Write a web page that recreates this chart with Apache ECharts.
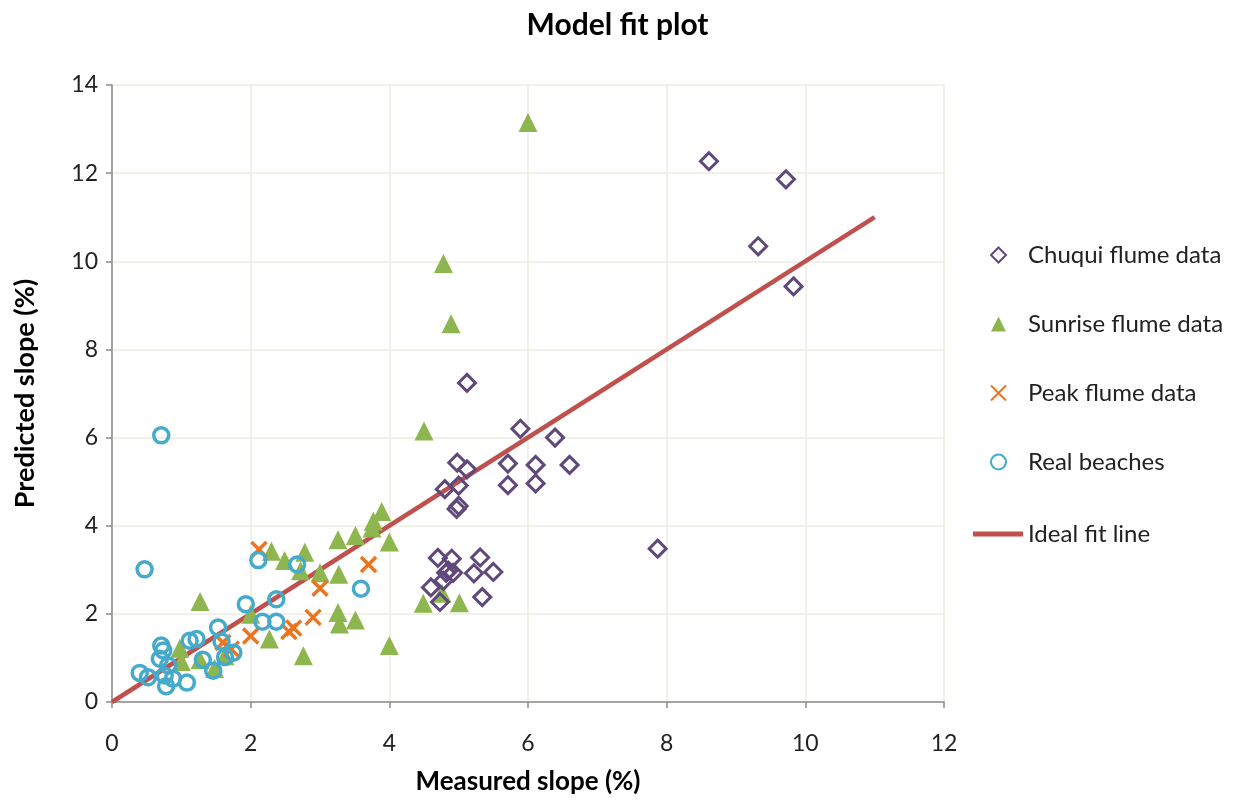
<!DOCTYPE html>
<html>
<head>
<meta charset="utf-8">
<script src="https://cdn.jsdelivr.net/npm/echarts@6/dist/echarts.min.js"></script>
<style>html,body{margin:0;padding:0;background:#fff}#c{width:1235px;height:800px}</style>
</head>
<body>
<div id="c"></div>
<script>
const chuqui = [[4.60,2.60],[4.73,2.27],[4.78,2.75],[4.82,2.93],[4.85,2.98],[4.92,2.93],[4.70,3.27],[4.90,3.25],[5.31,3.28],[5.22,2.92],[5.50,2.95],[5.34,2.38],[4.80,4.83],[5.00,4.91],[4.97,4.38],[5.00,4.45],[4.98,5.43],[5.12,5.28],[5.71,5.41],[5.71,4.92],[6.11,5.38],[6.11,4.96],[6.60,5.38],[5.89,6.20],[6.39,6.00],[5.12,7.24],[7.87,3.48],[8.61,12.27],[9.72,11.86],[9.32,10.34],[9.83,9.43]];
const sunrise = [[6.00,13.15],[4.78,9.95],[4.89,8.58],[4.50,6.15],[3.89,4.32],[3.77,4.10],[3.75,3.95],[4.00,3.63],[3.51,3.78],[3.26,3.68],[2.78,3.40],[2.30,3.42],[2.49,3.21],[2.72,2.98],[3.00,2.93],[3.27,2.90],[3.26,2.03],[3.28,1.77],[3.51,1.86],[4.00,1.28],[2.76,1.05],[2.27,1.43],[2.00,1.99],[1.27,2.28],[0.98,1.22],[1.00,0.92],[1.27,0.96],[1.48,0.76],[1.63,1.05],[4.49,2.24],[4.76,2.47],[5.01,2.25]];
const peak = [[1.60,1.35],[1.72,1.20],[2.00,1.50],[2.12,3.46],[2.55,1.60],[2.62,1.68],[2.90,1.92],[3.00,2.58],[3.70,3.12]];
const beaches = [[0.71,6.05],[0.47,3.01],[2.11,3.22],[2.67,3.12],[3.59,2.57],[1.93,2.22],[2.37,2.33],[2.17,1.82],[2.37,1.82],[1.53,1.69],[1.12,1.39],[1.22,1.43],[1.58,1.37],[1.75,1.12],[1.63,1.02],[1.31,0.96],[0.71,1.28],[0.74,1.17],[0.69,0.98],[0.81,0.83],[0.40,0.66],[0.52,0.56],[0.76,0.60],[0.88,0.53],[0.78,0.36],[1.08,0.44],[1.46,0.71]];
const idealLine = [[0,0],[11,11]];
const seriesNames = ['Chuqui flume data','Sunrise flume data','Peak flume data','Real beaches','Ideal fit line'];

const FONT = 'Lato, "Open Sans", sans-serif';
const CROSS = 'path://M0,0L10,10M10,0L0,10';
const chart = echarts.init(document.getElementById('c'), null, {renderer:'canvas'});
const gridColor = '#EEEBE0';
const axisColor = '#8C8C8C';
chart.setOption({
  animation:false,
  backgroundColor:'#fff',
  title:{text:'Model fit plot',left:'center',top:5,
    textStyle:{fontFamily:FONT,fontWeight:'bold',fontSize:30,color:'#000'}},
  grid:{left:112,top:85,width:832,height:622,containLabel:false},
  xAxis:{type:'value',min:0,max:12,interval:2,
    name:'Measured slope (%)',nameLocation:'middle',nameGap:67,
    nameTextStyle:{fontFamily:FONT,fontWeight:'bold',fontSize:26,color:'#000'},
    axisLine:{show:true,onZero:false,lineStyle:{color:axisColor,width:1.5}},
    axisTick:{show:true,length:6,lineStyle:{color:axisColor,width:1.5}},
    axisLabel:{margin:30,fontFamily:FONT,fontSize:23,color:'#222'},
    splitLine:{show:true,lineStyle:{color:gridColor,width:1.5}}},
  yAxis:{type:'value',min:0,max:14,interval:2,
    name:'Predicted slope (%)',nameLocation:'middle',nameGap:73,
    nameTextStyle:{fontFamily:FONT,fontWeight:'bold',fontSize:27,color:'#000'},
    axisLine:{show:true,onZero:false,lineStyle:{color:axisColor,width:1.5}},
    axisTick:{show:true,length:6,lineStyle:{color:axisColor,width:1.5}},
    axisLabel:{margin:14,fontFamily:FONT,fontSize:23,color:'#222'},
    splitLine:{show:true,lineStyle:{color:gridColor,width:1.5}}},
  legend:[{
    data:[
      {name:seriesNames[0],icon:'diamond'},
      {name:seriesNames[1],icon:'triangle'},
      {name:seriesNames[2],icon:CROSS},
      {name:seriesNames[3],icon:'circle'}
    ],
    orient:'vertical',left:985,top:238,
    itemWidth:15,itemHeight:15,itemGap:45,symbolKeepAspect:true,
    textStyle:{fontFamily:FONT,fontSize:24,color:'#222',padding:[0,0,0,17]}
  },{
    data:[{name:seriesNames[4],icon:'rect'}],orient:'vertical',left:968,top:517,
    itemWidth:50,itemHeight:5,
    textStyle:{fontFamily:FONT,fontSize:24,color:'#222'}
  }],
  series:[
    {name:seriesNames[4],type:'line',data:idealLine,symbol:'none',z:1,
      lineStyle:{color:'#C0504D',width:4.5},itemStyle:{color:'#C0504D'}},
    {name:seriesNames[0],type:'scatter',data:chuqui,symbol:'diamond',symbolSize:17,z:3,
      itemStyle:{opacity:1,color:'rgba(255,255,255,0)',borderColor:'#5F497A',borderWidth:3}},
    {name:seriesNames[1],type:'scatter',data:sunrise,symbol:'triangle',symbolSize:19,z:2,
      itemStyle:{opacity:1,color:'#8EB64E'}},
    {name:seriesNames[2],type:'scatter',data:peak,symbol:CROSS,symbolSize:15,z:4,
      itemStyle:{opacity:1,color:'rgba(0,0,0,0)',borderColor:'#EC7420',borderWidth:3.5}},
    {name:seriesNames[3],type:'scatter',data:beaches,symbol:'circle',symbolSize:15,z:5,
      itemStyle:{opacity:1,color:'rgba(255,255,255,0)',borderColor:'#45AACB',borderWidth:3.5}}
  ]
});
</script>
</body>
</html>
